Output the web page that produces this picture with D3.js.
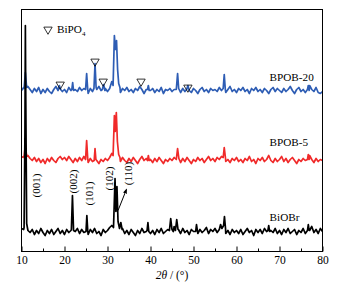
<!DOCTYPE html>
<html><head><meta charset="utf-8">
<script src="https://cdn.jsdelivr.net/npm/d3@7"></script>
<style>
body{margin:0;background:#fff;}
svg{display:block;}
text{font-family:"Liberation Serif","Times New Roman",serif;}
</style></head>
<body><svg id="c" width="359" height="287"></svg>
<script>
// ---------- data (2θ in degrees, intensity in a.u.) ----------
const xTicks = [10,20,30,40,50,60,70,80];
const xMinorTicks = [15,25,35,45,55,65,75];
const seriesNames = ["BiOBr","BPOB-5","BPOB-20"];
const seriesOffsets = [0,70,140];
const gridStart = 10, gridStep = 0.5;

// baseline readings every 0.5° from 10 to 80
const baseBiOBr = [
23,22,24,21,19,22,17,21,18,23, 19,16,21,18,22,17,20,23,18,21,
17,22,19,21,16,20,23,18,22,19, 21,17,22,19,23,18,20,16,22,19,
21,24,26,27,24,22,19,23,18,21, 17,22,19,16,21,18,23,19,20,24,
18,21,17,22,19,23,18,20,22,24, 21,25,20,22,18,23,19,21,17,22,
20,23,18,22,19,21,24,18,22,20, 23,19,24,21,22,18,21,17,22,19,
21,18,22,17,20,23,19,21,16,22, 19,22,18,23,20,17,21,19,23,18,
21,17,22,19,23,18,20,22,17,21, 19,23,18,22,21,25,19,22,18,23, 20];
const baseBPOB5 = [
24,25,25,26,23,21,24,20,23,19, 22,18,23,20,24,21,19,23,25,22,
24,21,25,22,19,23,20,24,21,25, 22,19,23,20,24,21,18,22,20,23,
21,24,28,30,26,23,20,24,21,19, 23,20,24,21,18,22,25,21,23,20,
22,19,23,20,24,21,18,22,20,23, 21,24,25,22,19,23,20,24,21,18,
22,20,24,21,23,19,22,25,21,23, 20,24,22,25,23,20,22,19,23,21,
24,20,22,19,23,21,25,20,22,18, 23,21,24,20,22,26,21,19,23,20,
22,25,20,23,19,22,24,21,18,22, 20,23,21,24,26,22,19,23,20,22, 21];
const baseBPOB20 = [
21,24,24,25,22,19,23,20,24,18, 22,19,23,20,18,22,25,21,23,20,
22,19,24,21,18,22,20,24,21,23, 22,18,23,20,24,22,25,21,19,23,
20,23,30,33,27,22,19,23,21,24, 20,22,19,23,21,25,22,18,22,24,
21,23,19,22,20,24,18,22,21,23, 20,22,24,21,19,23,20,26,22,19,
23,21,18,22,24,20,22,19,23,21, 22,20,24,21,23,19,22,25,20,22,
19,23,21,24,20,22,18,23,21,24, 20,22,19,23,21,18,22,24,20,23,
21,19,23,20,22,25,21,18,22,24, 20,22,19,23,26,22,20,24,19,18, 20];

// diffraction peaks: [2θ, intensity] vertices
const peaksBiOBr = [
 [[10.6,24],[10.8,120],[10.9,226],[11.0,150],[11.2,28]],
 [[21.6,22],[21.85,56],[22.1,21]],
 [[25.0,20],[25.2,36],[25.4,21]],
 [[31.4,24],[31.75,73],[31.95,40],[32.2,65],[32.45,30],[32.8,23],[33.1,29],[33.4,22]],
 [[39.2,21],[39.4,29],[39.6,20]],
 [[44.4,21],[44.7,33],[45.0,22],[45.3,20]],
 [[45.8,21],[46.1,32],[46.4,22]],
 [[50.5,20],[50.7,27],[50.9,21]],
 [[56.0,22],[56.3,27],[56.6,23],[57.0,26],[57.2,35],[57.45,23]],
 [[67.3,21],[67.5,26],[67.7,20]],
 [[76.5,21],[76.7,27],[76.9,21]]
];
const peaksBPOB5 = [
 [[10.6,24],[10.9,38],[11.2,25]],
 [[24.9,22],[25.15,41],[25.4,23]],
 [[26.9,21],[27.1,33],[27.3,22]],
 [[31.3,26],[31.6,66],[31.8,50],[32.05,69],[32.3,40],[32.6,27],[32.9,24]],
 [[39.3,21],[39.5,26],[39.7,21]],
 [[46.0,22],[46.3,33],[46.6,23]],
 [[56.9,24],[57.15,34],[57.45,23]],
 [[76.5,22],[76.7,27],[76.9,22]]
];
const peaksBPOB20 = [
 [[10.6,23],[10.9,39],[11.2,24]],
 [[18.5,21],[18.8,26],[19.1,22]],
 [[21.7,22],[21.9,29],[22.1,21]],
 [[24.9,22],[25.15,38],[25.4,22]],
 [[26.85,23],[27.1,48],[27.35,24]],
 [[28.8,22],[29.1,27],[29.4,21]],
 [[31.3,26],[31.6,76],[31.85,62],[32.1,71],[32.35,42],[32.6,28],[32.9,24]],
 [[39.3,22],[39.5,26],[39.7,21]],
 [[46.0,22],[46.3,38],[46.55,23]],
 [[48.4,22],[48.7,26],[49.0,21]],
 [[56.9,23],[57.15,37],[57.4,22]],
 [[76.5,22],[76.7,26],[76.9,21]]
];
// BiPO4 reflections marked on BPOB-20: [2θ, marker height in BPOB-20 units]
const bipo4Marks = [[19.0,27],[27.1,50],[29.0,30],[37.8,30],[48.7,24]];
// hkl labels for BiOBr: [text, 2θ, height]
const hklLabels = [["(001)",13.35,66],["(002)",22.0,70],["(101)",25.6,58],["(102)",30.4,73],["(110)",34.7,78]];
// series label heights (in each series' own units)
const seriesLabelHeights = {"BPOB-20":30.5,"BPOB-5":35.5,"BiOBr":30.5};

// ---------- drawing ----------
const svg = d3.select("#c");
const x = d3.scaleLinear().domain([10,80]).range([21.5,322.5]);
const y = d3.scaleLinear().domain([0,242]).range([251.5,9.5]);
const colors = {"BiOBr":"#000000","BPOB-5":"#f02a2a","BPOB-20":"#2e5db4"};

function build(base, peaks){
  const pts = [];
  base.forEach((v,i)=>{
    const t = gridStart + i*gridStep;
    if(!peaks.some(p => t >= p[0][0] && t <= p[p.length-1][0])) pts.push([t,v]);
  });
  peaks.forEach(p => p.forEach(q => pts.push(q)));
  pts.sort((a,b)=>a[0]-b[0]);
  return pts;
}
const seriesData = {
  "BiOBr": build(baseBiOBr, peaksBiOBr),
  "BPOB-5": build(baseBPOB5, peaksBPOB5),
  "BPOB-20": build(baseBPOB20, peaksBPOB20)
};
svg.append("defs").append("clipPath").attr("id","clip")
  .append("rect").attr("x",21.5).attr("y",9.5).attr("width",301).attr("height",242);

const line = d3.line();
["BPOB-20","BPOB-5","BiOBr"].forEach(name=>{
  const off = seriesOffsets[seriesNames.indexOf(name)];
  svg.append("path")
    .attr("clip-path","url(#clip)")
    .attr("d", line(seriesData[name].map(d=>[x(d[0]), y(d[1]+off)])))
    .attr("fill","none").attr("stroke",colors[name]).attr("stroke-width",1.7)
    .attr("stroke-linejoin","round");
});

// frame
svg.append("rect").attr("x",21.5).attr("y",9.5).attr("width",301).attr("height",242)
  .attr("fill","none").attr("stroke","#000").attr("stroke-width",1);

// x axis
const ax = svg.append("g").attr("transform","translate(0,251.5)")
  .call(d3.axisBottom(x).tickValues(xTicks).tickSizeInner(-5).tickSizeOuter(0).tickPadding(4).tickFormat(d3.format("d")));
ax.select(".domain").remove();
ax.selectAll("text").attr("font-size",11.5).attr("font-family","Liberation Serif").attr("fill","#000");
const axm = svg.append("g").attr("transform","translate(0,251.5)")
  .call(d3.axisBottom(x).tickValues(xMinorTicks).tickSizeInner(-3).tickSizeOuter(0).tickFormat(""));
axm.select(".domain").remove();

// axis title
const tt = svg.append("text").attr("x",172).attr("y",279).attr("text-anchor","middle").attr("font-size",11.5);
tt.append("tspan").attr("font-style","italic").text("2θ");
tt.append("tspan").text(" / (°)");

// series labels
seriesNames.forEach(name=>{
  const off = seriesOffsets[seriesNames.indexOf(name)];
  svg.append("text").attr("x",x(67.7)).attr("y",y(seriesLabelHeights[name]+off)).attr("font-size",11.2).text(name);
});

// BiPO4 markers
const tri = d3.symbol().type(d3.symbolTriangle).size(30);
bipo4Marks.forEach(([t,h])=>{
  svg.append("path").attr("d",tri())
    .attr("transform",`translate(${x(t)},${y(h+140)}) rotate(180)`)
    .attr("fill","none").attr("stroke","#000").attr("stroke-width",0.8);
});
// legend
svg.append("path").attr("d",tri()).attr("transform","translate(48,29.5) rotate(180)")
  .attr("fill","none").attr("stroke","#000").attr("stroke-width",0.8);
const lg = svg.append("text").attr("x",57).attr("y",33).attr("font-size",11.2);
lg.append("tspan").text("BiPO");
lg.append("tspan").attr("font-size",7).attr("dy",3).text("4");

// hkl labels
hklLabels.forEach(([s,t,h])=>{
  svg.append("text").attr("transform",`translate(${x(t)},${y(h)}) rotate(-90)`)
    .attr("text-anchor","middle").attr("dominant-baseline","central")
    .attr("font-size",11).text(s);
});
// arrow to (110)
svg.append("defs").append("marker").attr("id","ah").attr("viewBox","0 0 10 10")
  .attr("refX",8).attr("refY",5).attr("markerWidth",5).attr("markerHeight",5).attr("orient","auto")
  .append("path").attr("d","M0,1L10,5L0,9Z").attr("fill","#000");
svg.append("line").attr("x1",x(32.45)).attr("y1",y(41)).attr("x2",x(34.4)).attr("y2",y(62))
  .attr("stroke","#000").attr("stroke-width",1).attr("marker-end","url(#ah)");
</script></body></html>
